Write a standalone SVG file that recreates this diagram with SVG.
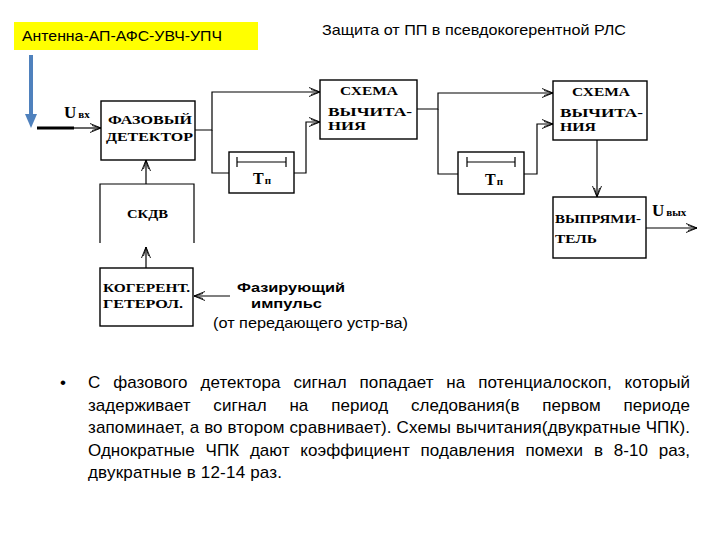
<svg xmlns="http://www.w3.org/2000/svg" width="720" height="540" viewBox="0 0 720 540">
<defs>
<marker id="ar" markerUnits="userSpaceOnUse" markerWidth="14" markerHeight="12" refX="11" refY="5" orient="auto">
<path d="M0,0.5 L11,5 L0,9.5 M2,2.5 L11,5 L2,7.5" fill="none" stroke="#000" stroke-width="0.9"/>
</marker>
</defs>
<style>
.box{fill:#fff;stroke:#000;stroke-width:1.4}
.ln{fill:none;stroke:#000;stroke-width:1.2}
.lb{font-family:"Liberation Serif","DejaVu Serif",serif;font-weight:bold;font-size:13px;fill:#000}
.lb2{font-family:"Liberation Serif","DejaVu Serif",serif;font-weight:bold;font-size:12px;fill:#000}
.big{font-family:"Liberation Serif","DejaVu Serif",serif;font-weight:bold;font-size:17px;fill:#000}
.sub{font-size:11px}
.sn{font-family:"Liberation Sans","DejaVu Sans",sans-serif;fill:#000}
.pb{font-family:"Liberation Sans","DejaVu Sans",sans-serif;font-size:17px;fill:#000}
</style>
<rect width="720" height="540" fill="#fff"/>

<g id="header">
<rect x="14" y="22" width="244" height="28" fill="#ffff00"/>
<text class="sn" x="22" y="41" font-size="15" textLength="200" lengthAdjust="spacingAndGlyphs">Антенна-АП-АФС-УВЧ-УПЧ</text>
<text class="sn" x="322" y="35" font-size="15" textLength="304" lengthAdjust="spacingAndGlyphs">Защита от ПП в псевдокогерентной РЛС</text>
</g>

<g id="connectors">
<line x1="31" y1="55" x2="31" y2="116" stroke="#4f81bd" stroke-width="4"/>
<polygon points="25,114 37,114 31,128" fill="#4f81bd"/>
<line x1="37" y1="128" x2="74" y2="128" stroke="#000" stroke-width="3"/>
<path class="ln" d="M72,128 H101" marker-end="url(#ar)"/>
<path class="ln" d="M195,130 H212 V92 H320" marker-end="url(#ar)"/>
<path class="ln" d="M212,130 V173 H229"/>
<path class="ln" d="M294,173 H306 V122 H320" marker-end="url(#ar)"/>
<path class="ln" d="M417,109 H438 V93 H553" marker-end="url(#ar)"/>
<path class="ln" d="M438,109 V174 H458"/>
<path class="ln" d="M524,174 H537 V124 H553" marker-end="url(#ar)"/>
<path class="ln" d="M597,140 V197" marker-end="url(#ar)"/>
<path class="ln" d="M646,228 H697" marker-end="url(#ar)"/>
<path class="ln" d="M146,184 V160" marker-end="url(#ar)"/>
<path class="ln" d="M146,268 V247" marker-end="url(#ar)"/>
<path class="ln" d="M230,296 H194" marker-end="url(#ar)"/>
</g>

<g id="u-in">
<text class="big" x="64" y="118">U<tspan class="sub" dx="2">вх</tspan></text>
</g>

<g id="phase-detector">
<rect class="box" x="101" y="101" width="94" height="59"/>
<text class="lb" x="108" y="124" textLength="84" lengthAdjust="spacingAndGlyphs">ФАЗОВЫЙ</text>
<text class="lb" x="106" y="141" textLength="87" lengthAdjust="spacingAndGlyphs">ДЕТЕКТОР</text>
</g>

<g id="delay1">
<rect class="box" x="229" y="152" width="65" height="41"/>
<path class="ln" d="M237,162 H286 M237,157 V167 M286,157 V167"/>
<text class="big" x="253" y="184" style="font-size:16px">T<tspan class="sub" dx="1">п</tspan></text>
</g>

<g id="subtract1">
<rect class="box" x="320" y="80" width="97" height="59"/>
<text class="lb" x="340" y="95" textLength="58" lengthAdjust="spacingAndGlyphs">СХЕМА</text>
<text class="lb2" x="328" y="116" textLength="84" lengthAdjust="spacingAndGlyphs">ВЫЧИТА-</text>
<text class="lb2" x="328" y="130" textLength="38" lengthAdjust="spacingAndGlyphs">НИЯ</text>
</g>

<g id="delay2">
<rect class="box" x="458" y="152" width="66" height="42"/>
<path class="ln" d="M467,162 H515 M467,157 V167 M515,157 V167"/>
<text class="big" x="485" y="185" style="font-size:16px">T<tspan class="sub" dx="1">п</tspan></text>
</g>

<g id="subtract2">
<rect class="box" x="553" y="81" width="94" height="59"/>
<text class="lb" x="572" y="96" textLength="58" lengthAdjust="spacingAndGlyphs">СХЕМА</text>
<text class="lb2" x="560" y="117" textLength="83" lengthAdjust="spacingAndGlyphs">ВЫЧИТА-</text>
<text class="lb2" x="560" y="131" textLength="36" lengthAdjust="spacingAndGlyphs">НИЯ</text>
</g>

<g id="rectifier">
<rect class="box" x="553" y="197" width="93" height="61"/>
<text class="lb" x="555" y="223" textLength="86" lengthAdjust="spacingAndGlyphs">ВЫПРЯМИ-</text>
<text class="lb" x="555" y="243" textLength="42" lengthAdjust="spacingAndGlyphs">ТЕЛЬ</text>
</g>

<g id="u-out">
<text class="big" x="652" y="216">U<tspan class="sub" dx="2">вых</tspan></text>
</g>

<g id="skdv">
<path class="ln" d="M100,243 V184 H194 V243" stroke-width="1.4"/>
<text class="lb" x="127" y="218" textLength="41" lengthAdjust="spacingAndGlyphs">СКДВ</text>
</g>

<g id="coherent-lo">
<rect class="box" x="100" y="268" width="93" height="58"/>
<text class="lb" x="103" y="292" textLength="87" lengthAdjust="spacingAndGlyphs">КОГЕРЕНТ.</text>
<text class="lb" x="103" y="308" textLength="80" lengthAdjust="spacingAndGlyphs">ГЕТЕРОЛ.</text>
</g>

<g id="phasing-pulse">
<text class="sn" x="237" y="292" font-size="13" font-weight="bold" textLength="108" lengthAdjust="spacingAndGlyphs">Фазирующий</text>
<text class="sn" x="251" y="308" font-size="12" font-weight="bold" textLength="71" lengthAdjust="spacingAndGlyphs">импульс</text>
<text class="sn" x="213" y="328" font-size="15" textLength="195" lengthAdjust="spacingAndGlyphs">(от передающего устр-ва)</text>
</g>

<g id="paragraph">
<text class="pb" x="60" y="388">•</text>
<text class="pb" x="88" y="388" word-spacing="8" textLength="602" lengthAdjust="spacing">С фазового детектора сигнал попадает на потенциалоскоп, который</text>
<text class="pb" x="88" y="410.5" word-spacing="18" textLength="602" lengthAdjust="spacing">задерживает сигнал на период следования(в первом периоде</text>
<text class="pb" x="88" y="433" textLength="602" lengthAdjust="spacing">запоминает, а во втором сравнивает). Схемы вычитания(двукратные ЧПК).</text>
<text class="pb" x="88" y="455.5" word-spacing="6" textLength="602" lengthAdjust="spacing">Однократные ЧПК дают коэффициент подавления помехи в 8-10 раз,</text>
<text class="pb" x="88" y="478" textLength="194" lengthAdjust="spacing">двукратные в 12-14 раз.</text>
</g>
</svg>
